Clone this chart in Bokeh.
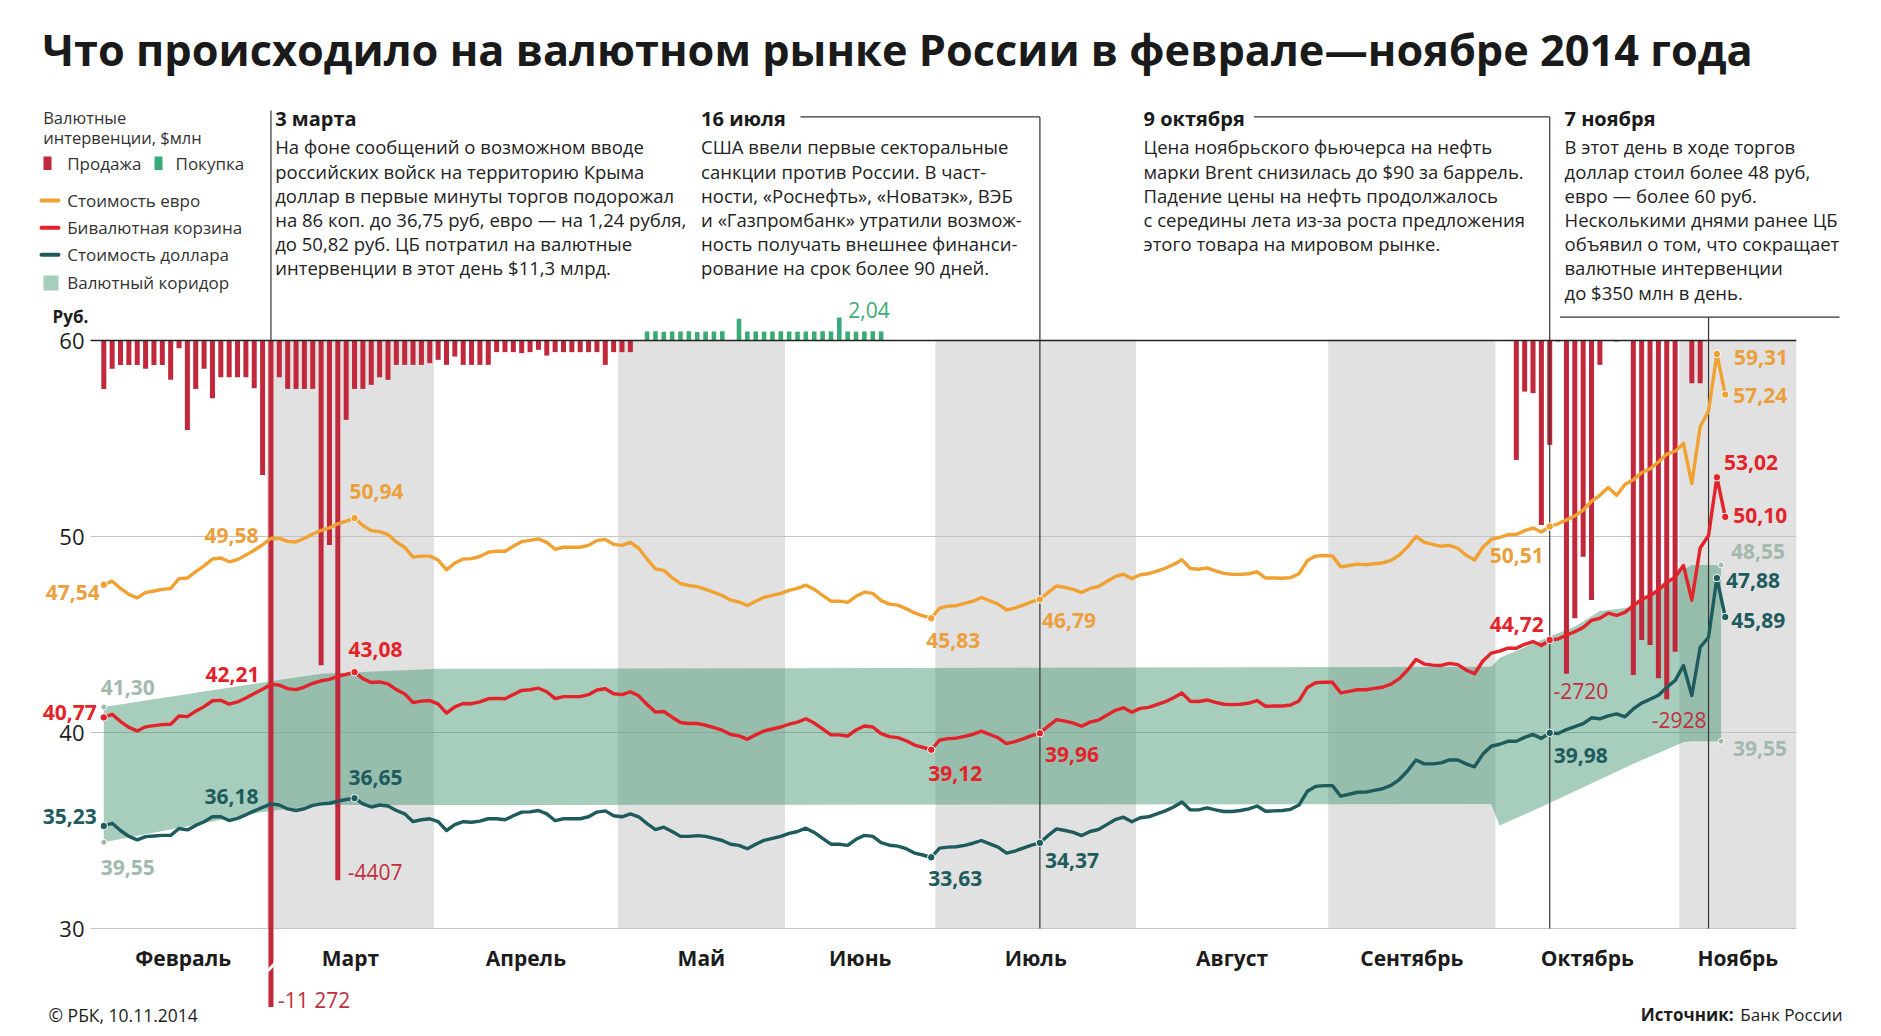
from bokeh.plotting import figure
from bokeh.core.properties import value
from bokeh.embed import file_html
from bokeh.resources import INLINE

# ------------------------------------------------------------------ data
TITLE = "Что происходило на валютном рынке России в феврале—ноябре 2014 года"
MONTHS = ["Февраль", "Март", "Апрель", "Май", "Июнь", "Июль", "Август",
          "Сентябрь", "Октябрь", "Ноябрь"]
MONTH_DAYS = [20, 20, 22, 20, 18, 24, 23, 20, 22, 14]   # trading-day slots per month
Y_TICKS = [30, 40, 50, 60]

USD = [
    35.23, 35.37, 35.00, 34.70, 34.52, 34.69, 34.72, 34.75, 34.75, 35.10,
    35.03, 35.26, 35.45, 35.70, 35.70, 35.51, 35.62, 35.80, 36.00, 36.18,
    36.36, 36.30, 36.10, 36.02, 36.11, 36.28, 36.36, 36.39, 36.50, 36.58,
    36.65, 36.36, 36.20, 36.30, 36.25, 36.02, 35.85, 35.45, 35.55, 35.60,
    35.45, 35.00, 35.30, 35.45, 35.42, 35.48, 35.60, 35.60, 35.55, 35.75,
    35.94, 35.95, 36.02, 35.85, 35.50, 35.60, 35.60, 35.60, 35.70, 35.94,
    36.00, 35.75, 35.70, 35.85, 35.70, 35.35, 35.05, 35.17, 34.95, 34.70,
    34.70, 34.74, 34.70, 34.60, 34.49, 34.30, 34.24, 34.07, 34.30, 34.50,
    34.60, 34.70, 34.85, 34.95, 35.12, 34.90, 34.60, 34.30, 34.30, 34.24,
    34.55, 34.75, 34.70, 34.38, 34.25, 34.20, 34.07, 33.85, 33.75, 33.63,
    34.10, 34.15, 34.17, 34.24, 34.35, 34.49, 34.32, 34.15, 33.85, 33.95,
    34.10, 34.25, 34.37, 34.75, 35.08, 35.00, 34.90, 34.74, 34.95, 35.05,
    35.30, 35.55, 35.68, 35.45, 35.65, 35.70, 35.85, 36.00, 36.20, 36.45,
    36.05, 36.05, 36.15, 36.05, 35.97, 35.97, 36.02, 36.10, 36.25, 35.98,
    36.00, 36.02, 36.08, 36.30, 37.00, 37.25, 37.29, 37.29, 36.75, 36.85,
    36.95, 36.96, 37.05, 37.13, 37.30, 37.60, 38.05, 38.60, 38.40, 38.40,
    38.45, 38.60, 38.60, 38.40, 38.25, 38.90, 39.30, 39.40, 39.55, 39.55,
    39.75, 39.90, 39.70, 39.98, 39.95, 40.15, 40.30, 40.45, 40.75, 40.70,
    40.85, 40.95, 40.80, 41.20, 41.50, 41.70, 41.90, 42.30, 42.65, 43.42,
    41.89, 44.35, 44.86, 47.88, 45.89]

EUR = [
    47.54, 47.72, 47.35, 47.05, 46.87, 47.14, 47.22, 47.30, 47.35, 47.85,
    47.88, 48.21, 48.50, 48.85, 48.90, 48.71, 48.82, 49.05, 49.30, 49.58,
    49.91, 49.90, 49.75, 49.72, 49.91, 50.13, 50.31, 50.44, 50.65, 50.78,
    50.94, 50.56, 50.30, 50.25, 50.10, 49.72, 49.45, 48.95, 49.00, 49.00,
    48.80, 48.30, 48.65, 48.85, 48.87, 48.98, 49.20, 49.25, 49.25, 49.50,
    49.74, 49.80, 49.88, 49.70, 49.35, 49.45, 49.45, 49.45, 49.55, 49.79,
    49.85, 49.60, 49.55, 49.70, 49.40, 48.85, 48.35, 48.27, 47.90, 47.60,
    47.50, 47.44, 47.30, 47.15, 46.99, 46.75, 46.66, 46.48, 46.70, 46.90,
    47.00, 47.10, 47.25, 47.35, 47.52, 47.30, 47.00, 46.70, 46.70, 46.64,
    46.95, 47.16, 47.10, 46.73, 46.55, 46.50, 46.32, 46.10, 45.95, 45.83,
    46.35, 46.45, 46.47, 46.59, 46.70, 46.89, 46.72, 46.55, 46.25, 46.35,
    46.50, 46.67, 46.79, 47.15, 47.48, 47.40, 47.30, 47.14, 47.35, 47.45,
    47.70, 47.95, 48.08, 47.85, 48.05, 48.10, 48.23, 48.38, 48.57, 48.81,
    48.37, 48.33, 48.40, 48.25, 48.12, 48.07, 48.07, 48.10, 48.20, 47.88,
    47.88, 47.87, 47.90, 48.10, 48.77, 49.00, 49.03, 49.01, 48.45, 48.52,
    48.59, 48.56, 48.61, 48.65, 48.78, 49.05, 49.47, 50.00, 49.70, 49.60,
    49.50, 49.55, 49.40, 49.05, 48.80, 49.45, 49.85, 49.95, 50.10, 50.10,
    50.30, 50.43, 50.23, 50.51, 50.65, 50.85, 51.05, 51.35, 51.80, 52.10,
    52.50, 52.10, 52.65, 52.90, 53.25, 53.45, 53.80, 54.20, 54.35, 54.75,
    52.70, 55.60, 56.40, 59.31, 57.24]

BASKET = [
    40.77, 40.93, 40.56, 40.26, 40.08, 40.29, 40.35, 40.40, 40.42, 40.84,
    40.81, 41.09, 41.32, 41.62, 41.64, 41.45, 41.56, 41.76, 41.99, 42.21,
    42.46, 42.42, 42.24, 42.19, 42.32, 42.51, 42.64, 42.71, 42.87, 42.97,
    43.08, 42.75, 42.55, 42.58, 42.48, 42.19, 41.97, 41.53, 41.60, 41.63,
    41.46, 40.99, 41.31, 41.48, 41.47, 41.56, 41.72, 41.74, 41.72, 41.94,
    42.15, 42.18, 42.26, 42.08, 41.73, 41.83, 41.83, 41.83, 41.93, 42.17,
    42.23, 41.98, 41.93, 42.08, 41.87, 41.43, 41.04, 41.07, 40.78, 40.51,
    40.46, 40.46, 40.37, 40.25, 40.12, 39.90, 39.83, 39.65, 39.88, 40.08,
    40.18, 40.28, 40.43, 40.53, 40.70, 40.48, 40.18, 39.88, 39.88, 39.82,
    40.13, 40.33, 40.28, 39.94, 39.79, 39.74, 39.58, 39.36, 39.24, 39.12,
    39.61, 39.69, 39.71, 39.80, 39.91, 40.07, 39.90, 39.73, 39.43, 39.53,
    39.68, 39.84, 39.96, 40.33, 40.66, 40.58, 40.48, 40.32, 40.53, 40.63,
    40.88, 41.13, 41.26, 41.03, 41.23, 41.28, 41.42, 41.57, 41.77, 42.01,
    41.59, 41.58, 41.66, 41.54, 41.44, 41.42, 41.44, 41.50, 41.63, 41.34,
    41.35, 41.35, 41.40, 41.61, 42.30, 42.54, 42.57, 42.56, 42.02, 42.10,
    42.19, 42.18, 42.25, 42.31, 42.47, 42.75, 43.19, 43.73, 43.49, 43.44,
    43.42, 43.53, 43.46, 43.19, 43.00, 43.65, 44.05, 44.15, 44.30, 44.30,
    44.50, 44.64, 44.44, 44.72, 44.77, 44.97, 45.14, 45.36, 45.72, 45.83,
    46.09, 45.97, 46.13, 46.47, 46.79, 46.99, 47.26, 47.66, 47.92, 48.52,
    46.75, 49.41, 50.05, 53.02, 51.00]

# currency interventions, $ mln (sales)
SELL_DAYS = list(range(64)) + [169, 170, 171, 172, 173, 174, 175, 176, 177, 178, 179,
                               181, 183, 184, 185, 186, 187, 188, 190, 191]
SELL_MLN = [
    395, 231, 199, 199, 199, 231, 199, 199, 321, 63,
    730, 395, 231, 471, 300, 300, 300, 300, 389, 1097,
    11272, 300, 395, 395, 395, 395, 2650, 1669, 4407, 648,
    395, 395, 362, 300, 321, 199, 199, 199, 199, 185,
    158, 199, 131, 199, 199, 199, 199, 95, 95, 95,
    103, 95, 76, 123, 95, 95, 95, 95, 95, 95,
    199, 95, 95, 95,
    975, 417, 430, 1506, 852, 8, 2720, 2268, 1765, 2118, 199,
    8, 2731, 2445, 2486, 2758, 2928, 2541, 349, 349]
# purchases
BUY_DAYS = [65, 66, 67, 68, 69, 70, 71, 72, 73, 74,
            76, 77, 78, 79, 80, 81, 82, 83, 84, 85, 86, 87, 88, 89, 90, 91, 92, 93]
BUY_VAL = [0.80, 0.82, 0.78, 0.80, 0.80, 0.82, 0.76, 0.80, 0.80, 0.82,
           1.93, 0.80, 0.80, 0.78, 0.80, 0.82, 0.80, 0.78, 0.80, 0.80, 0.82, 0.80,
           2.04, 0.80, 0.78, 0.80, 0.82, 0.80]

# currency corridor
CORR_X = [0, 19, 26, 40, 166, 167, 173, 176, 179, 183, 189, 190, 193.5]
CORR_HI = [41.30, 42.55, 43.00, 43.25, 43.35, 43.80, 44.90, 45.40, 46.20, 46.40, 48.30, 48.55, 48.55]
CORR_LO = [34.40, 35.95, 36.30, 36.30, 36.35, 35.25, 36.40, 37.00, 37.60, 38.40, 39.50, 39.55, 39.55]

EVENT_DAYS = [20, 112, 173, 192]
EVENT_TITLES = ["3 марта", "16 июля", "9 октября", "7 ноября"]
EVENT_TEXTS = [
    ["На фоне сообщений о возможном вводе",
     "российских войск на территорию Крыма",
     "доллар в первые минуты торгов подорожал",
     "на 86 коп. до 36,75 руб, евро — на 1,24 рубля,",
     "до 50,82 руб. ЦБ потратил на валютные",
     "интервенции в этот день $11,3 млрд."],
    ["США ввели первые секторальные",
     "санкции против России. В част-",
     "ности, «Роснефть», «Новатэк», ВЭБ",
     "и «Газпромбанк» утратили возмож-",
     "ность получать внешнее финанси-",
     "рование на срок более 90 дней."],
    ["Цена ноябрьского фьючерса на нефть",
     "марки Brent снизилась до $90 за баррель.",
     "Падение цены на нефть продолжалось",
     "с середины лета из-за роста предложения",
     "этого товара на мировом рынке."],
    ["В этот день в ходе торгов",
     "доллар стоил более 48 руб,",
     "евро — более 60 руб.",
     "Несколькими днями ранее ЦБ",
     "объявил о том, что сокращает",
     "валютные интервенции",
     "до $350 млн в день."],
]

# value labels: (day index, text, align, dx px, dy px (down +))
EUR_LABELS = [(0, "47,54", "right", -4, 8), (19, "49,58", "right", -4, -9),
              (30, "50,94", "left", -5, -27), (99, "45,83", "left", -5, 22),
              (112, "46,79", "left", 2, 21), (173, "50,51", "right", -6, 29),
              (193, "59,31", "left", 17, 3), (194, "57,24", "left", 8, 1)]
BASKET_LABELS = [(0, "40,77", "right", -7, -5), (19, "42,21", "right", -3, -15),
                 (30, "43,08", "left", -6, -23), (99, "39,12", "left", -3, 24),
                 (112, "39,96", "left", 5, 21), (173, "44,72", "right", -6, -15),
                 (193, "53,02", "left", 7, -15), (194, "50,10", "left", 8, -1)]
USD_LABELS = [(0, "35,23", "right", -7, -9), (19, "36,18", "right", -4, -11),
              (30, "36,65", "left", -6, -21), (99, "33,63", "left", -3, 21),
              (112, "34,37", "left", 5, 18), (173, "39,98", "left", 4, 23),
              (193, "47,88", "left", 9, 2), (194, "45,89", "left", 6, 3)]
MARK_IDX = [0, 30, 99, 112, 173, 193, 194]
CORR_LABELS = ["41,30", "39,55", "48,55", "39,55"]
SELL_LABELS = [(11272, "-11 272", 7, -7), (4407, "-4407", 10, -8),
               (2720, "-2720", -13, 17), (2928, "-2928", -15, 21)]

# ------------------------------------------------------------------ layout
W, H, ORIGIN = 1877, 1032, 0
X0_PX, DAY_PX = 103.3, 8.358        # page px of day 0, px per day
Y30_PX, RUB_PX = 928.0, 19.6         # page px of 30 rub, px per rub
SELL_SCALE = 1 / 160.0               # rub-axis units per $ mln
BUY_SCALE = 0.575
BAR_FLOOR = 26.0


def xd(px):
    return (px - X0_PX) / DAY_PX


def yd(px):
    return 30 + (Y30_PX - px) / RUB_PX


FONT = "Open Sans"
ORANGE, RED, TEAL = "#f0a131", "#e3232a", "#1e5b5d"
BAR_RED, BAR_GREEN = "#c1283b", "#3aab78"
BAND_GREY = "#e1e1e1"
CORR_COLOR = "#3f9270"
CORR_ALPHA = 0.46
CORR_LAB = "#a3b9ae"
INK = "#1c1c1c"

p = figure(width=W, height=H, x_range=(xd(ORIGIN), xd(ORIGIN + W)),
           y_range=(yd(ORIGIN + H), yd(ORIGIN)), output_backend="svg",
           toolbar_location=None, min_border=0)
p.xaxis.visible = False
p.yaxis.visible = False
p.xgrid.visible = False
p.ygrid.visible = False
p.outline_line_color = None
p.background_fill_color = "white"
p.border_fill_color = "white"


def T(xs, ys, texts, size, color, align="left", bold=False, baseline="middle"):
    p.text(x=list(xs), y=list(ys), text=list(texts), text_font=value(FONT),
           text_font_size=value(f"{size}px"), text_color=color, text_align=align,
           text_baseline=baseline, text_font_style="bold" if bold else "normal")


# month bands
starts = []
s = 0
for n in MONTH_DAYS:
    starts.append(s)
    s += n
lefts = [st - 0.5 for st in starts]
rights = [st + n - 0.5 for st, n in zip(starts, MONTH_DAYS)]
grey_l = [l for i, l in enumerate(lefts) if i % 2 == 1]
grey_r = [r for i, r in enumerate(rights) if i % 2 == 1]
p.quad(left=grey_l, right=grey_r, bottom=30, top=60, fill_color=BAND_GREY, line_color=None)

x_grid0, x_grid1 = xd(90), rights[-1]
for t in Y_TICKS[:-1]:
    p.segment(x0=[x_grid0], x1=[x_grid1], y0=[t], y1=[t], line_color="#c4c4c4", line_width=1)

# corridor
p.varea(x=CORR_X, y1=CORR_LO, y2=CORR_HI, fill_color=CORR_COLOR, fill_alpha=CORR_ALPHA)

# interventions
sell_bottom = [max(60 - v * SELL_SCALE, BAR_FLOOR) for v in SELL_MLN]
p.vbar(x=SELL_DAYS, width=0.6, top=60, bottom=sell_bottom, fill_color=BAR_RED, line_color=None)
p.vbar(x=BUY_DAYS, width=0.55, bottom=60, top=[60 + v * BUY_SCALE for v in BUY_VAL],
       fill_color=BAR_GREEN, line_color=None)
big_i = SELL_MLN.index(max(SELL_MLN))
big_x = SELL_DAYS[big_i]
p.segment(x0=[big_x - 0.8], y0=[yd(974)], x1=[big_x + 0.8], y1=[yd(960)],
          line_color="white", line_width=3)

p.segment(x0=[x_grid0], x1=[x_grid1], y0=[60], y1=[60], line_color="#222222", line_width=1.6)

# event lines
LINE_C = "#333333"
e0, e1, e2, e3 = EVENT_DAYS
p.segment(x0=[e0], x1=[e0], y0=[yd(110)], y1=[60], line_color=LINE_C, line_width=1.2)
p.segment(x0=[e1, e2], x1=[e1, e2], y0=[yd(116.4)] * 2, y1=[30, 30], line_color=LINE_C, line_width=1.2)
p.segment(x0=[xd(800), xd(1253.6)], x1=[e1, e2], y0=[yd(116.4)] * 2, y1=[yd(116.4)] * 2,
          line_color=LINE_C, line_width=1.2)
p.segment(x0=[e3], x1=[e3], y0=[yd(316.7)], y1=[30], line_color=LINE_C, line_width=1.2)
p.segment(x0=[xd(1559.5)], x1=[xd(1839)], y0=[yd(316.7)], y1=[yd(316.7)],
          line_color=LINE_C, line_width=1.2)

# series
days = list(range(len(USD)))
for ser, col in ((EUR, ORANGE), (BASKET, RED), (USD, TEAL)):
    p.line(x=days, y=ser, line_color=col, line_width=3.4, line_join="round")
for ser, col in ((EUR, ORANGE), (BASKET, RED), (USD, TEAL)):
    p.scatter(x=MARK_IDX, y=[ser[i] for i in MARK_IDX], size=7.5, marker="circle",
              fill_color=col, line_color="white", line_width=1)
cx = [CORR_X[0], CORR_X[0], CORR_X[-1], CORR_X[-1]]
cy = [CORR_HI[0], CORR_LO[0], CORR_HI[-1], CORR_LO[-1]]
p.scatter(x=cx, y=cy, size=6, marker="circle", fill_color=CORR_LAB, line_color="white", line_width=1)

# value labels
for ser, labs, col in ((EUR, EUR_LABELS, "#eba03c"), (BASKET, BASKET_LABELS, RED),
                       (USD, USD_LABELS, TEAL)):
    for al in ("left", "right"):
        sel = [l for l in labs if l[2] == al]
        T([l[0] + l[3] / DAY_PX for l in sel], [ser[l[0]] - l[4] / RUB_PX for l in sel],
          [l[1] for l in sel], 21, col, align=al, bold=True)
c_off = [(-3, -20), (-3, 25), (10, -13), (12, 7)]
T([x + dx / DAY_PX for x, (dx, dy) in zip(cx, c_off)],
  [y - dy / RUB_PX for y, (dx, dy) in zip(cy, c_off)], CORR_LABELS, 21, CORR_LAB, bold=True)

sl_x, sl_y, sl_t = [], [], []
for v, txt, dx, dy in SELL_LABELS:
    i = SELL_MLN.index(v)
    sl_x.append(SELL_DAYS[i] + dx / DAY_PX)
    sl_y.append(sell_bottom[i] - dy / RUB_PX)
    sl_t.append(txt)
T(sl_x, sl_y, sl_t, 21, "#c0303c")
bi = BUY_VAL.index(max(BUY_VAL))
T([BUY_DAYS[bi] + 9 / DAY_PX], [60 + BUY_VAL[bi] * BUY_SCALE + 8 / RUB_PX], ["2,04"], 21, BAR_GREEN)

# axis texts
T([xd(84)] * len(Y_TICKS), Y_TICKS, [str(t) for t in Y_TICKS], 22, INK, align="right")
T([xd(70)], [yd(316)], ["Руб."], 17, INK, align="center", bold=True)
T([st + n / 2 - 0.5 for st, n in zip(starts, MONTH_DAYS)], [yd(957)] * len(MONTHS), MONTHS,
  21, INK, align="center", bold=True)

# title & footer
T([xd(42)], [yd(49)], [TITLE], 43.3, "#1a1a1a", bold=True)
T([xd(48)], [yd(1014)], ["© РБК, 10.11.2014"], 17.5, INK)
T([xd(1842)], [yd(1014)], ["Банк России"], 17, INK, align="right")
T([xd(1733)], [yd(1014)], ["Источник:"], 17, INK, align="right", bold=True)

# legend
T([xd(42.7)] * 2, [yd(116.7), yd(136.7)], ["Валютные", "интервенции, $млн"], 16.5, "#333333")
p.quad(left=[xd(43), xd(154)], right=[xd(51), xd(162)], top=[yd(156)] * 2,
       bottom=[yd(169.5)] * 2, fill_color=[BAR_RED, BAR_GREEN], line_color=None)
T([xd(66.7), xd(175)], [yd(162.7)] * 2, ["Продажа", "Покупка"], 17, "#333333")
for yy, col in ((200, ORANGE), (227.3, RED), (254.3, TEAL)):
    p.segment(x0=[xd(41)], x1=[xd(58)], y0=[yd(yy)], y1=[yd(yy)], line_color=col,
              line_width=4, line_cap="round")
p.quad(left=[xd(43)], right=[xd(58)], top=[yd(275)], bottom=[yd(290)],
       fill_color=CORR_COLOR, fill_alpha=CORR_ALPHA, line_color=None)
T([xd(66.7)] * 4, [yd(200), yd(227.3), yd(254.3), yd(282.3)],
  ["Стоимость евро", "Бивалютная корзина", "Стоимость доллара", "Валютный коридор"], 17, "#333333")

# annotations
ANN_LEFT = [274.7, 700.6, 1143, 1564]
for left, title, lines in zip(ANN_LEFT, EVENT_TITLES, EVENT_TEXTS):
    T([xd(left)], [yd(117.6)], [title], 20, "#1a1a1a", bold=True)
    T([xd(left)] * len(lines), [yd(146.4 + 24.2 * k) for k in range(len(lines))], lines, 18.5, "#222222")

open("out.html", "w").write(file_html(p, INLINE))
